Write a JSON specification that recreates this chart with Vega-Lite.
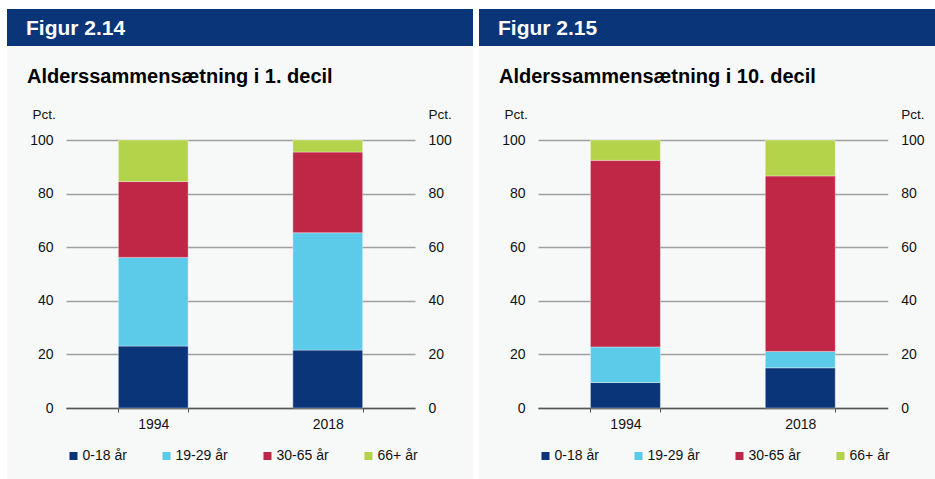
{
  "$schema": "https://vega.github.io/schema/vega-lite/v6.json",
  "padding": {"left": 7, "top": 9, "right": 0, "bottom": 0},
  "background": "white",
  "datasets": {
    "d1": [
      {"year": "1994", "group": "0-18 år", "value": 23.1},
      {"year": "1994", "group": "19-29 år", "value": 33.1},
      {"year": "1994", "group": "30-65 år", "value": 28.3},
      {"year": "1994", "group": "66+ år", "value": 15.5},
      {"year": "2018", "group": "0-18 år", "value": 21.6},
      {"year": "2018", "group": "19-29 år", "value": 43.8},
      {"year": "2018", "group": "30-65 år", "value": 30.1},
      {"year": "2018", "group": "66+ år", "value": 4.5}
    ],
    "d2": [
      {"year": "1994", "group": "0-18 år", "value": 9.5},
      {"year": "1994", "group": "19-29 år", "value": 13.3},
      {"year": "1994", "group": "30-65 år", "value": 69.6},
      {"year": "1994", "group": "66+ år", "value": 7.6},
      {"year": "2018", "group": "0-18 år", "value": 15.0},
      {"year": "2018", "group": "19-29 år", "value": 6.1},
      {"year": "2018", "group": "30-65 år", "value": 65.5},
      {"year": "2018", "group": "66+ år", "value": 13.4}
    ],
    "none": []
  },
  "columns": 2,
  "spacing": {"row": 0, "column": 6},
  "bounds": "flush",
  "align": "each",
  "resolve": {"scale": {"color": "independent"}, "legend": {"color": "independent"}},
  "concat": [
    {
      "data": {"name": "none"},
      "mark": "rect",
      "width": 466,
      "height": 37,
      "view": {"fill": "#0b3579", "stroke": null},
      "title": {"text": "Figur 2.14", "anchor": "start", "frame": "group", "orient": "top", "baseline": "alphabetic", "offset": -47, "dx": 19, "color": "white", "fontSize": 21, "fontWeight": "bold", "font": "Liberation Sans"}
    },
    {
      "data": {"name": "none"},
      "mark": "rect",
      "width": 456,
      "height": 37,
      "view": {"fill": "#0b3579", "stroke": null},
      "title": {"text": "Figur 2.15", "anchor": "start", "frame": "group", "orient": "top", "baseline": "alphabetic", "offset": -47, "dx": 19, "color": "white", "fontSize": 21, "fontWeight": "bold", "font": "Liberation Sans"}
    },
    {
      "width": 466,
      "height": 433,
      "view": {"fill": "#f7f9f9", "stroke": null},
      "title": {"text": "Alderssammensætning i 1. decil", "anchor": "start", "frame": "group", "orient": "top", "baseline": "alphabetic", "offset": -57, "dx": 20, "color": "black", "fontSize": 20, "fontWeight": "bold", "font": "Liberation Sans"},
      "data": {"name": "d1"},
      "layer": [
        {
          "mark": {"type": "bar", "stroke": "white", "strokeWidth": 0.6, "strokeOpacity": 0.6},
          "encoding": {
            "x": {"field": "year", "type": "nominal", "sort": null,
              "scale": {"range": [59, 408], "paddingInner": 0.6, "paddingOuter": 0.3},
              "axis": {"orient": "bottom", "offset": -71, "title": null, "labelAngle": 0, "tickBand": "extent", "tickSize": 4, "tickColor": "#555555", "domainColor": "#555555", "domainWidth": 1.3, "labelPadding": 5, "labelFontSize": 14, "labelColor": "#111111", "labelFont": "Liberation Sans", "grid": false}},
            "y": {"field": "value", "type": "quantitative", "stack": "zero",
              "scale": {"domain": [0, 100], "range": [362, 94], "nice": false},
              "axis": {"orient": "left", "offset": -59, "values": [0, 20, 40, 60, 80, 100], "domain": false, "ticks": false, "grid": true, "gridColor": "#a0a0a0", "gridWidth": 1.4, "labelPadding": 13, "labelFontSize": 14, "labelColor": "#111111", "labelFont": "Liberation Sans", "title": "Pct.", "titleAngle": 0, "titleAlign": "left", "titleBaseline": "alphabetic", "titleX": -34, "titleY": 72, "titleFontSize": 13.5, "titleFontWeight": "normal", "titleFont": "Liberation Sans", "titleColor": "#111111"}},
            "order": {"field": "group", "sort": "ascending"},
            "color": {"field": "group", "type": "nominal",
              "scale": {"domain": ["0-18 år", "19-29 år", "30-65 år", "66+ år"], "range": ["#0b3579", "#5ccbea", "#c02646", "#b3d34a"]},
              "legend": {"orient": "none", "legendX": 59.5, "legendY": 403, "direction": "horizontal", "columns": 4, "title": null, "symbolType": "square", "symbolSize": 64, "symbolStrokeWidth": 0, "labelFontSize": 14, "labelFont": "Liberation Sans", "labelColor": "#111111", "labelOffset": 2, "columnPadding": 32, "padding": 0}}
          }
        },
        {
          "mark": {"type": "bar", "opacity": 0},
          "encoding": {
            "x": {"field": "year", "type": "nominal", "sort": null},
            "y": {"field": "value", "type": "quantitative",
              "axis": {"orient": "right", "offset": -58, "values": [0, 20, 40, 60, 80, 100], "domain": false, "ticks": false, "grid": false, "labelPadding": 13, "labelFontSize": 14, "labelColor": "#111111", "labelFont": "Liberation Sans", "title": "Pct.", "titleAngle": 0, "titleAlign": "left", "titleBaseline": "alphabetic", "titleX": 13, "titleY": 72, "titleFontSize": 13.5, "titleFontWeight": "normal", "titleFont": "Liberation Sans", "titleColor": "#111111"}}
          }
        }
      ],
      "resolve": {"axis": {"y": "independent"}}
    },
    {
      "width": 456,
      "height": 433,
      "view": {"fill": "#f7f9f9", "stroke": null},
      "title": {"text": "Alderssammensætning i 10. decil", "anchor": "start", "frame": "group", "orient": "top", "baseline": "alphabetic", "offset": -57, "dx": 20, "color": "black", "fontSize": 20, "fontWeight": "bold", "font": "Liberation Sans"},
      "data": {"name": "d2"},
      "layer": [
        {
          "mark": {"type": "bar", "stroke": "white", "strokeWidth": 0.6, "strokeOpacity": 0.6},
          "encoding": {
            "x": {"field": "year", "type": "nominal", "sort": null,
              "scale": {"range": [59, 408.7], "paddingInner": 0.6, "paddingOuter": 0.3},
              "axis": {"orient": "bottom", "offset": -71, "title": null, "labelAngle": 0, "tickBand": "extent", "tickSize": 4, "tickColor": "#555555", "domainColor": "#555555", "domainWidth": 1.3, "labelPadding": 5, "labelFontSize": 14, "labelColor": "#111111", "labelFont": "Liberation Sans", "grid": false}},
            "y": {"field": "value", "type": "quantitative", "stack": "zero",
              "scale": {"domain": [0, 100], "range": [362, 94], "nice": false},
              "axis": {"orient": "left", "offset": -59, "values": [0, 20, 40, 60, 80, 100], "domain": false, "ticks": false, "grid": true, "gridColor": "#a0a0a0", "gridWidth": 1.4, "labelPadding": 13, "labelFontSize": 14, "labelColor": "#111111", "labelFont": "Liberation Sans", "title": "Pct.", "titleAngle": 0, "titleAlign": "left", "titleBaseline": "alphabetic", "titleX": -34, "titleY": 72, "titleFontSize": 13.5, "titleFontWeight": "normal", "titleFont": "Liberation Sans", "titleColor": "#111111"}},
            "order": {"field": "group", "sort": "ascending"},
            "color": {"field": "group", "type": "nominal",
              "scale": {"domain": ["0-18 år", "19-29 år", "30-65 år", "66+ år"], "range": ["#0b3579", "#5ccbea", "#c02646", "#b3d34a"]},
              "legend": {"orient": "none", "legendX": 59.5, "legendY": 403, "direction": "horizontal", "columns": 4, "title": null, "symbolType": "square", "symbolSize": 64, "symbolStrokeWidth": 0, "labelFontSize": 14, "labelFont": "Liberation Sans", "labelColor": "#111111", "labelOffset": 2, "columnPadding": 32, "padding": 0}}
          }
        },
        {
          "mark": {"type": "bar", "opacity": 0},
          "encoding": {
            "x": {"field": "year", "type": "nominal", "sort": null},
            "y": {"field": "value", "type": "quantitative",
              "axis": {"orient": "right", "offset": -47.3, "values": [0, 20, 40, 60, 80, 100], "domain": false, "ticks": false, "grid": false, "labelPadding": 13, "labelFontSize": 14, "labelColor": "#111111", "labelFont": "Liberation Sans", "title": "Pct.", "titleAngle": 0, "titleAlign": "left", "titleBaseline": "alphabetic", "titleX": 13, "titleY": 72, "titleFontSize": 13.5, "titleFontWeight": "normal", "titleFont": "Liberation Sans", "titleColor": "#111111"}}
          }
        }
      ],
      "resolve": {"axis": {"y": "independent"}}
    }
  ]
}
